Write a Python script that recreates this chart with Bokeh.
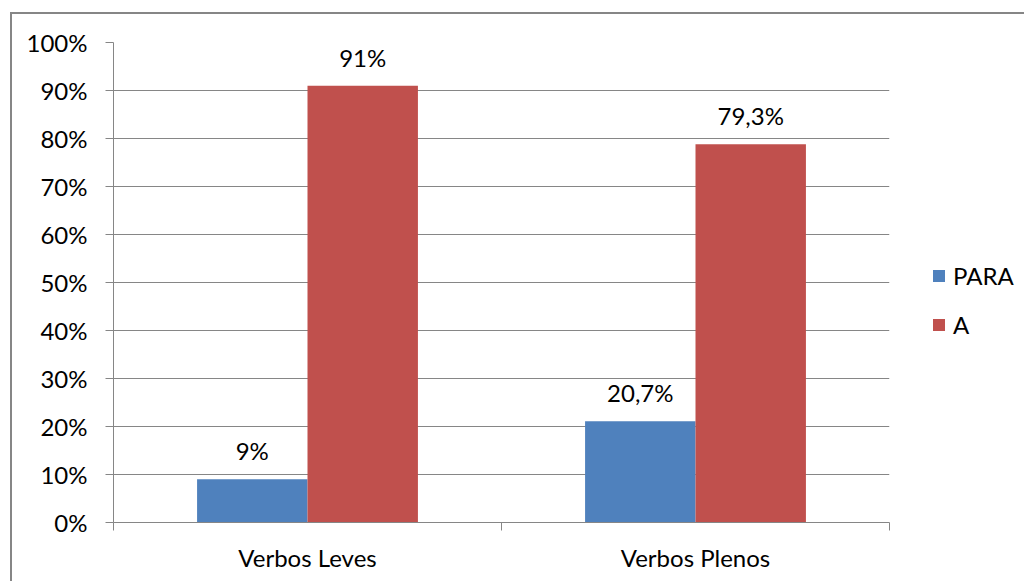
from bokeh.plotting import figure
from bokeh.layouts import column, row
from bokeh.models import (Range1d, FixedTicker, PrintfTickFormatter, CustomJSTickFormatter,
                          ColumnDataSource, LabelSet)
from bokeh.core.properties import value
from bokeh.embed import file_html
from bokeh.resources import INLINE

# ---- data ----
categories = ["Verbos Leves", "Verbos Plenos"]
series = ["PARA", "A"]
para_values = [9.0, 21.1]
a_values = [91.0, 78.8]
para_labels = ["9%", "20,7%"]
a_labels = ["91%", "79,3%"]
y_ticks = [0, 10, 20, 30, 40, 50, 60, 70, 80, 90, 100]

BLUE = "#4F81BD"
RED = "#C0504D"
GRAY = "#868686"
FONT = "Lato"
FS = "24px"

bar_w = 0.2846
idx = list(range(len(categories)))
para_x = [i + 0.5 - bar_w / 2 for i in idx]
a_x = [i + 0.5 + bar_w / 2 for i in idx]

src_para = ColumnDataSource(dict(x=para_x, top=para_values, label=para_labels))
src_a = ColumnDataSource(dict(x=a_x, top=a_values, label=a_labels))

p = figure(width=882, height=567, output_backend="svg", toolbar_location=None,
           x_range=Range1d(0, len(categories)), y_range=Range1d(0, 100),
           min_border_left=101, min_border_right=5, min_border_top=28, min_border_bottom=59)
p.outline_line_color = None
p.background_fill_color = "white"
p.border_fill_color = "white"

p.vbar(x="x", top="top", width=bar_w, bottom=0, source=src_para, color=BLUE, line_color=None)
p.vbar(x="x", top="top", width=bar_w, bottom=0, source=src_a, color=RED, line_color=None)

for src in (src_para, src_a):
    p.add_layout(LabelSet(x="x", y="top", text="label", source=src, y_offset=19,
                          text_align="center", text_baseline="alphabetic",
                          text_font=value(FONT), text_font_size=FS, text_color="black"))

# y axis
p.yaxis.ticker = FixedTicker(ticks=y_ticks)
p.yaxis.formatter = PrintfTickFormatter(format="%d%%")
p.yaxis.axis_line_color = GRAY
p.yaxis.major_tick_line_color = GRAY
p.yaxis.major_tick_out = 8
p.yaxis.major_tick_in = 0
p.yaxis.minor_tick_line_color = None
p.yaxis.major_label_standoff = 18
p.yaxis.major_label_text_font = FONT
p.yaxis.major_label_text_font_size = FS
p.yaxis.major_label_text_color = "black"

# x axis: labels at centers, ticks at boundaries
p.xaxis.ticker = FixedTicker(ticks=[i + 0.5 for i in idx], minor_ticks=list(range(len(categories) + 1)))
p.xaxis.formatter = CustomJSTickFormatter(args=dict(cats=categories),
                                          code="return cats[Math.floor(tick)] || '';")
p.xaxis.axis_line_color = GRAY
p.xaxis.major_tick_line_color = None
p.xaxis.major_tick_out = 0
p.xaxis.major_tick_in = 0
p.xaxis.minor_tick_line_color = GRAY
p.xaxis.minor_tick_out = 8
p.xaxis.minor_tick_in = 0
p.xaxis.major_label_standoff = 12
p.xaxis.major_label_text_font = FONT
p.xaxis.major_label_text_font_size = FS
p.xaxis.major_label_text_color = "black"

p.xgrid.grid_line_color = None
p.ygrid.grid_line_color = GRAY
p.ygrid.grid_line_width = 1

# legend panel (separate small figure to the right of the chart; its glyphs lie off-range)
pl = figure(width=130, height=567, output_backend="svg", toolbar_location=None,
            x_range=Range1d(0, 1), y_range=Range1d(0, 1),
            x_axis_location=None, y_axis_location=None,
            min_border_left=0, min_border_right=0, min_border_top=0, min_border_bottom=0)
pl.outline_line_color = None
pl.background_fill_color = "white"
pl.border_fill_color = "white"
pl.grid.grid_line_color = None
pl.vbar(x=[5], top=[1], width=0.1, color=BLUE, line_color=None, legend_label=series[0])
pl.vbar(x=[5], top=[1], width=0.1, color=RED, line_color=None, legend_label=series[1])

lg = pl.legend[0]
lg.location = (37, 183)
lg.border_line_color = None
lg.background_fill_alpha = 0
lg.padding = 0
lg.margin = 0
lg.glyph_width = 15
lg.glyph_height = 15
lg.label_standoff = 7
lg.spacing = 20
lg.label_text_font = FONT
lg.label_text_font_size = FS
lg.label_text_color = "black"

layout = column(row(p, pl),
                styles={"border-left": "2px solid #868686", "border-top": "2px solid #868686",
                        "margin-left": "10px", "margin-top": "12px"})

open("out.html", "w").write(file_html(layout, INLINE))
